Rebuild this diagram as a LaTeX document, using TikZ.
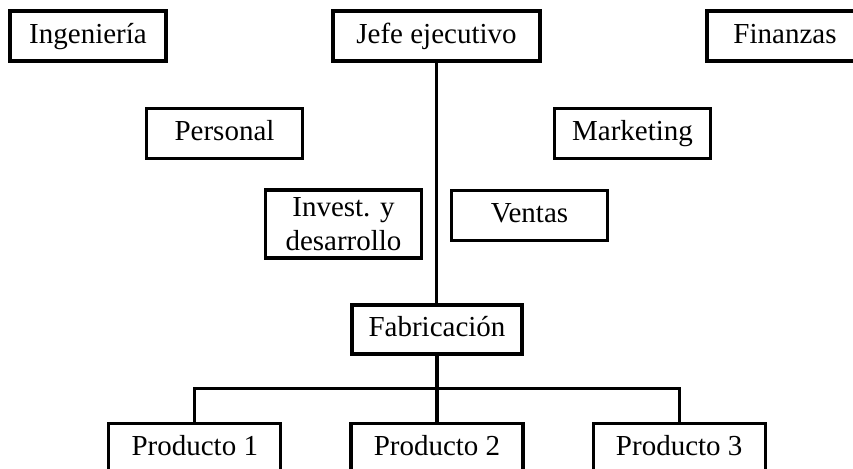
\documentclass[tikz,border=0pt]{standalone}
\usepackage{fontspec}
\setmainfont{Liberation Serif}
\usetikzlibrary{positioning, calc}

\begin{document}
\begin{tikzpicture}[x=0.5pt, y=-0.5pt, node distance=33.5pt,
        box/.style={rectangle, draw=black, line width=1.6pt, inner sep=0pt, align=center, minimum width=78pt, minimum height=25pt, font=\fontsize{14.5}{17}\selectfont},
        unit/.style={box, text height=10.5pt, text depth=3.2pt},
        line/.style={draw=black, line width=1.6pt}]
        \useasboundingbox (0,0) rectangle (853,468);
        \clip (0,0) rectangle (853,468);

        \node [unit] (ing) at (88,36) {Ingeniería};
        \node [unit, minimum width=103.5pt] (jefe) at (436.5,36) {Jefe ejecutivo};
        \node [unit] (fin) at (785,36) {Finanzas};
        \node [unit] (pers) at (224.5,133.5) {Personal};
        \node [unit] (mkt) at (632.5,133.5) {Marketing};
        \node [box, minimum height=34pt] (inv) at (343.5,224) {Invest. y\\desarrollo};
        \node [unit] (ven) at (529.5,215.5) {Ventas};
        \node [unit, minimum width=85pt, minimum height=24.5pt] (fab) at (437,329.5) {Fabricación};

        \node [unit, minimum width=86pt, below=33pt of fab] (p2) {Producto 2};
        \node [unit, minimum width=86pt, left=of p2] (p1) {Producto 1};
        \node [unit, minimum width=86pt, right=of p2] (p3) {Producto 3};

        \coordinate (bar) at ($(fab.south)!0.5!(p2.north)$);

        \path [line] (jefe.south) -- (jefe.south |- fab.north);
        \path [line] (fab.south) -- (p2.north);
        \path [line] (p1.north) |- (bar) -| (p3.north);
    \end{tikzpicture}
\end{document}
